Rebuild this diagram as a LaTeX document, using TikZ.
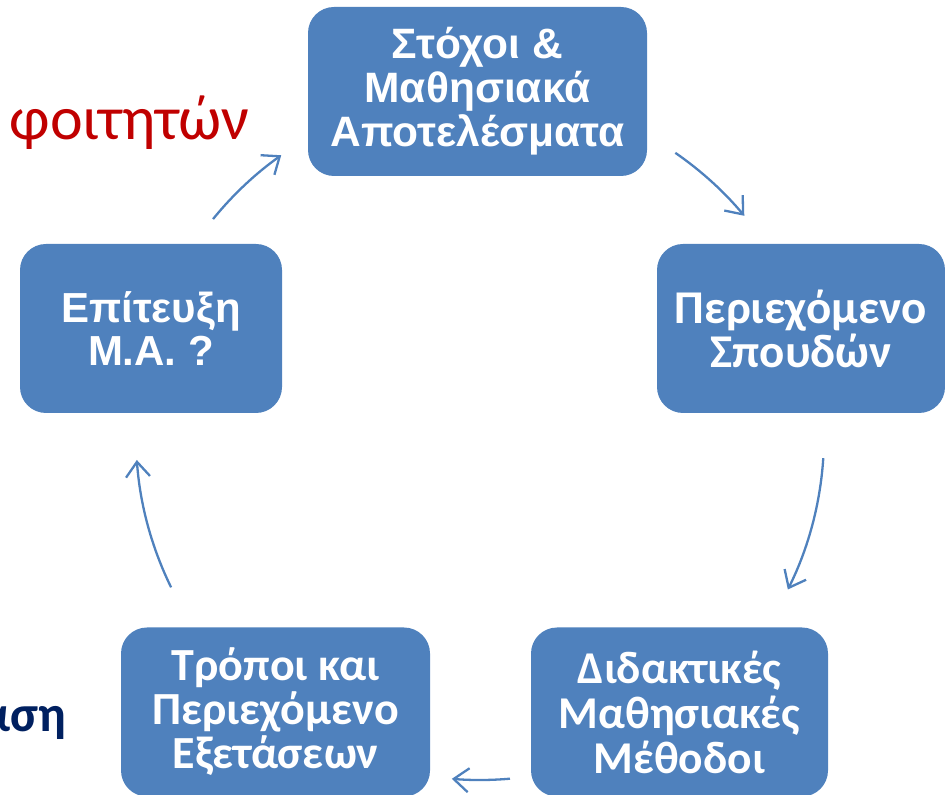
\documentclass[tikz,border=0pt]{standalone}
\usepackage{fontspec}
\setmainfont{Liberation Sans}
\newfontfamily\calibri{Carlito}
\usetikzlibrary{arrows.meta}
\definecolor{boxblue}{HTML}{4F81BD}
\definecolor{darkred}{HTML}{C00000}
\definecolor{navyblue}{HTML}{002060}

\tikzset{
  stage/.style={fill=boxblue, rounded corners=26pt, text=white, align=center, inner sep=0pt, minimum height=169pt},
  cyc/.style={draw=boxblue, line width=2.3pt, -{Straight Barb[length=15pt,width=24pt]}},
}

\begin{document}
\begin{tikzpicture}[x=1pt, y=1pt]
    \clip (0,0) rectangle (945,795);
    % text of the slide behind
    \node[anchor=base east, inner sep=0pt, text=darkred, font=\calibri\fontsize{62}{66}\selectfont] (students) at (250,655) {φοιτητών};
    \node[anchor=base east, inner sep=0pt, text=navyblue, font=\calibri\bfseries\fontsize{51}{60}\selectfont] (basis) at (66,63) {άση};
    % the five stages
    \node[stage, minimum width=339pt, font=\bfseries\fontsize{42.5}{44}\selectfont] (goals) at (477.5,703.5) {Στόχοι \&\\Μαθησιακά\\Αποτελέσματα};
    \node[stage, minimum width=288pt, font=\calibri\bfseries\fontsize{47}{44}\selectfont] (content) at (801,466.5) {Περιεχόμενο\\Σπουδών};
    \node[stage, minimum width=297pt, font=\calibri\bfseries\fontsize{45.5}{45}\selectfont] (methods) at (679.5,83) {Διδακτικές\\Μαθησιακές\\Μέθοδοι};
    \node[stage, minimum width=309pt, font=\calibri\bfseries\fontsize{46}{44}\selectfont] (exams) at (275.5,83) {Τρόποι και\\Περιεχόμενο\\Εξετάσεων};
    \node[stage, minimum width=262pt, font=\bfseries\fontsize{42}{43}\selectfont] (achieve) at (151,466.5) {Επίτευξη\\Μ.Α. ?};
    % arrows round the cycle
    \coordinate (ctr) at (480,359);
    \path (ctr) ++(140.9:344) coordinate (a1);
    \path (ctr) ++(55.4:344) coordinate (a2);
    \path (ctr) ++(-3.7:344) coordinate (a3);
    \path (ctr) ++(-85:344) coordinate (a4);
    \path (ctr) ++(206.1:344) coordinate (a5);
    \draw[cyc] (a1) arc[start angle=140.9, end angle=125.3, radius=344];
    \draw[cyc] (a2) arc[start angle=55.4, end angle=39.8, radius=344];
    \draw[cyc] (a3) arc[start angle=-3.7, end angle=-26.5, radius=344];
    \draw[cyc] (a4) arc[start angle=-85, end angle=-94.7, radius=344];
    \draw[cyc] (a5) arc[start angle=206.1, end angle=184, radius=344];
\end{tikzpicture}
\end{document}
